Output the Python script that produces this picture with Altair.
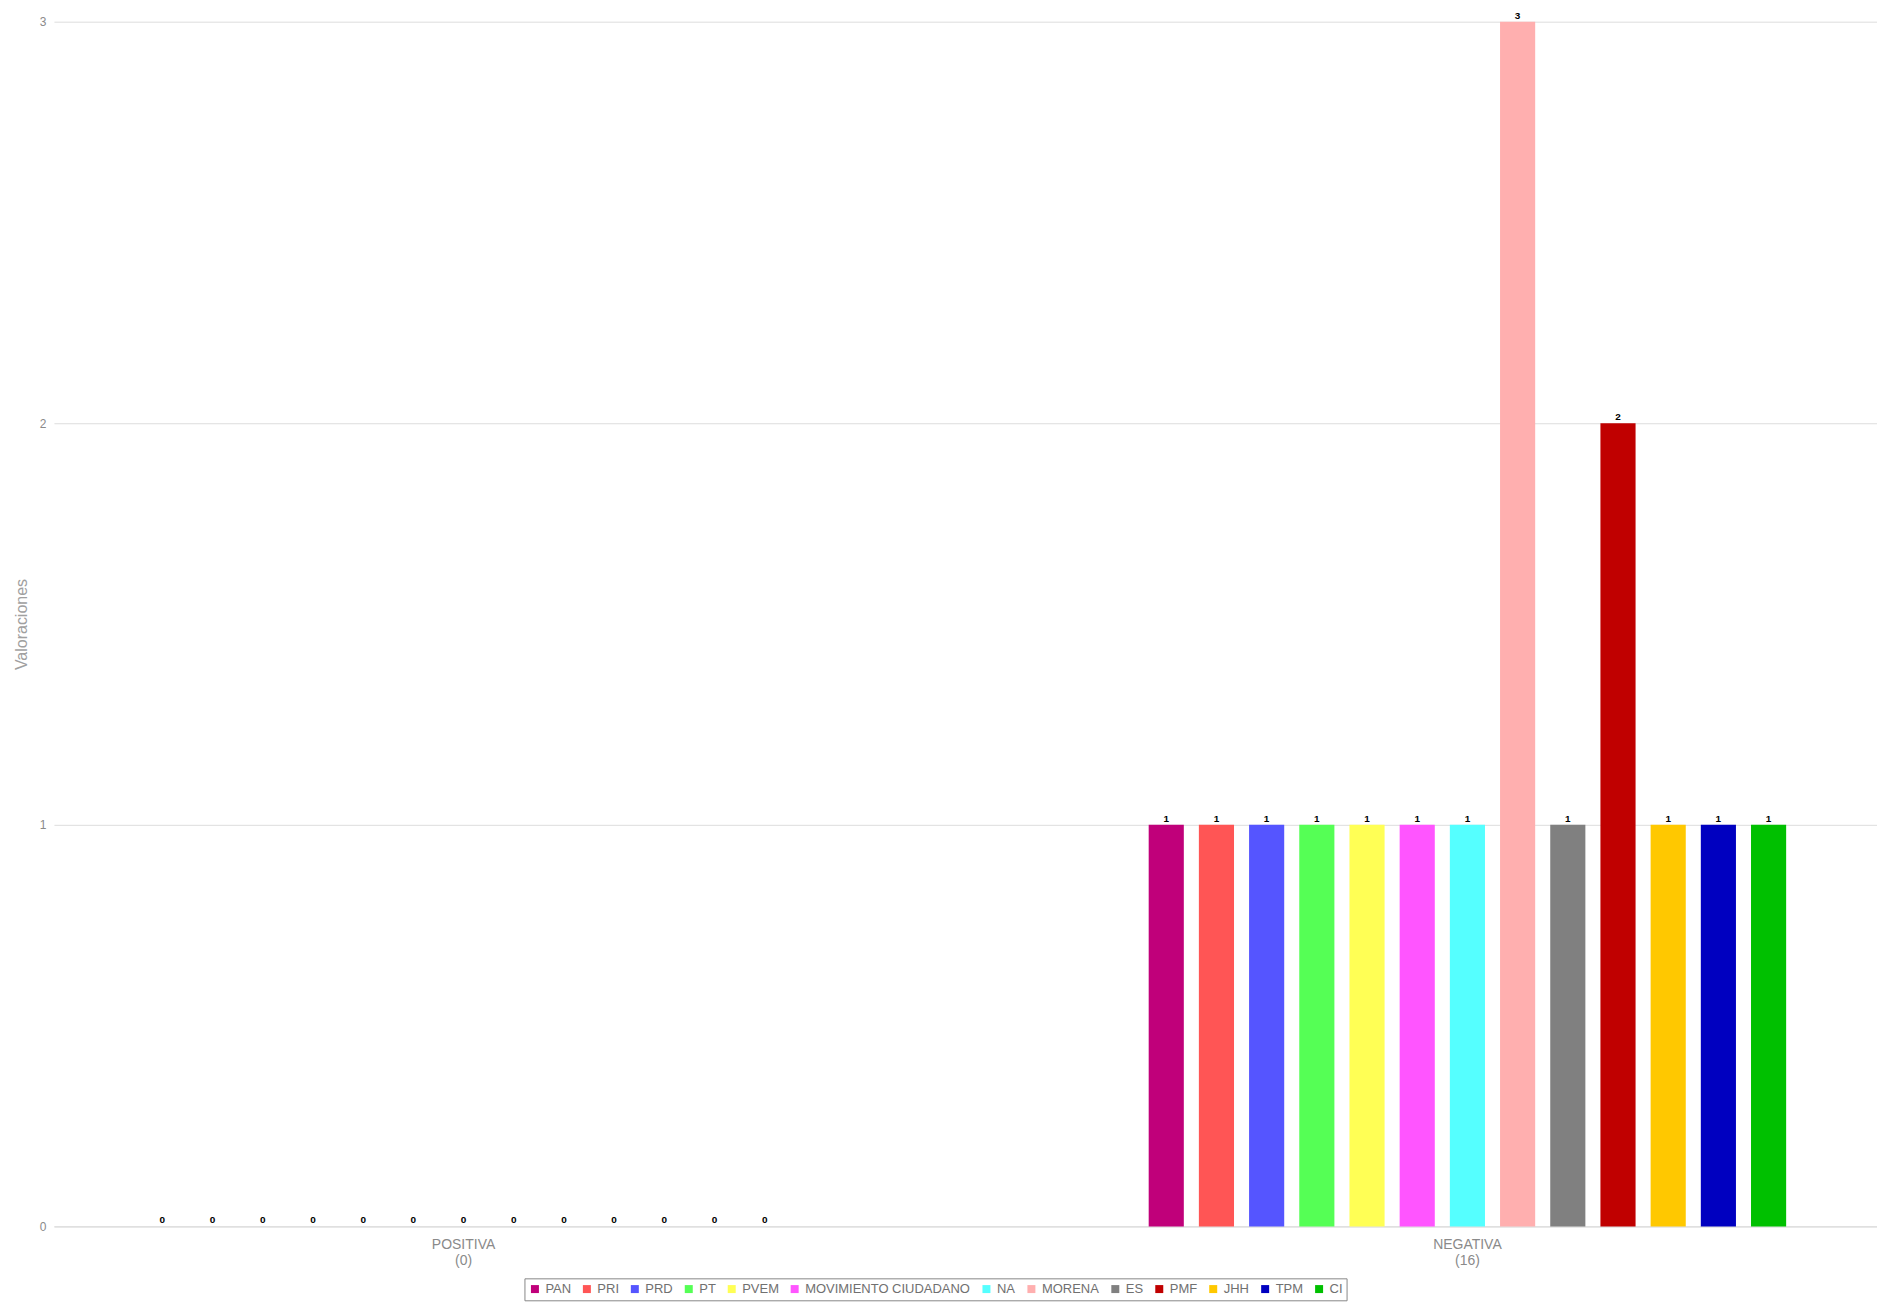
import altair as alt
import pandas as pd

groups = ["POSITIVA|(0)", "NEGATIVA|(16)"]
parties = ["PAN", "PRI", "PRD", "PT", "PVEM", "MOVIMIENTO CIUDADANO", "NA",
           "MORENA", "ES", "PMF", "JHH", "TPM", "CI"]
colors = ["#C0007A", "#FF5555", "#5555FF", "#55FF55", "#FFFF55", "#FF55FF", "#55FFFF",
          "#FFAFAF", "#808080", "#C00000", "#FFC800", "#0000C0", "#00C000"]
positiva = [0, 0, 0, 0, 0, 0, 0, 0, 0, 0, 0, 0, 0]
negativa = [1, 1, 1, 1, 1, 1, 1, 3, 1, 2, 1, 1, 1]

rows = []
for g, vals in zip(groups, [positiva, negativa]):
    for p, v in zip(parties, vals):
        rows.append({"grupo": g, "partido": p, "valor": v})
df = pd.DataFrame(rows)

FONT = "Liberation Sans"

x = alt.X("grupo:N", sort=groups, title=None,
          scale=alt.Scale(paddingInner=0.35, paddingOuter=0.083),
          axis=alt.Axis(labelExpr="split(datum.label, '|')", labelAngle=0,
                        labelColor="#8a8a8a", labelFontSize=14, labelFont=FONT,
                        labelPadding=11, ticks=False, domain=True,
                        domainColor="#d9d9d9", labelLineHeight=16))
xo = alt.XOffset("partido:N", sort=parties,
                 scale=alt.Scale(paddingInner=0.3, paddingOuter=0.15))
y = alt.Y("valor:Q", title="Valoraciones",
          scale=alt.Scale(domain=[0, 3], nice=False),
          axis=alt.Axis(values=[0, 1, 2, 3], format="d", domain=False, ticks=False,
                        gridColor="#dddddd", labelColor="#8a8a8a", labelFontSize=12,
                        labelFont=FONT, labelPadding=8, titleColor="#a0a0a0",
                        titleFontSize=16, titleFont=FONT, titleFontWeight="normal",
                        titlePadding=10))
color = alt.Color("partido:N", sort=parties,
                  scale=alt.Scale(domain=parties, range=colors),
                  legend=alt.Legend(orient="none", legendX=471, legendY=1258,
                                    direction="horizontal",
                                    columns=13, title=None, symbolType="square",
                                    symbolSize=64, symbolStrokeWidth=0,
                                    labelFontSize=13, labelFont=FONT, labelLimit=400,
                                    labelColor="#707070", columnPadding=9,
                                    labelOffset=4, strokeColor="#888888",
                                    padding=4))

bars = alt.Chart(df).mark_bar().encode(x=x, xOffset=xo, y=y, color=color)
labels = alt.Chart(df).mark_text(dy=-6, fontSize=10, fontWeight="bold",
                                 color="black", font=FONT).encode(
    x=x, xOffset=xo, y=y, text=alt.Text("valor:Q", format="d"))

chart = (bars + labels).properties(
    width=1825, height=1206,
    padding={"left": 5, "top": 2, "right": 0, "bottom": 0},
).configure_view(stroke=None).configure_axis(gridWidth=1)

chart.save("out.html", embed_options={"renderer": "svg", "actions": False})
